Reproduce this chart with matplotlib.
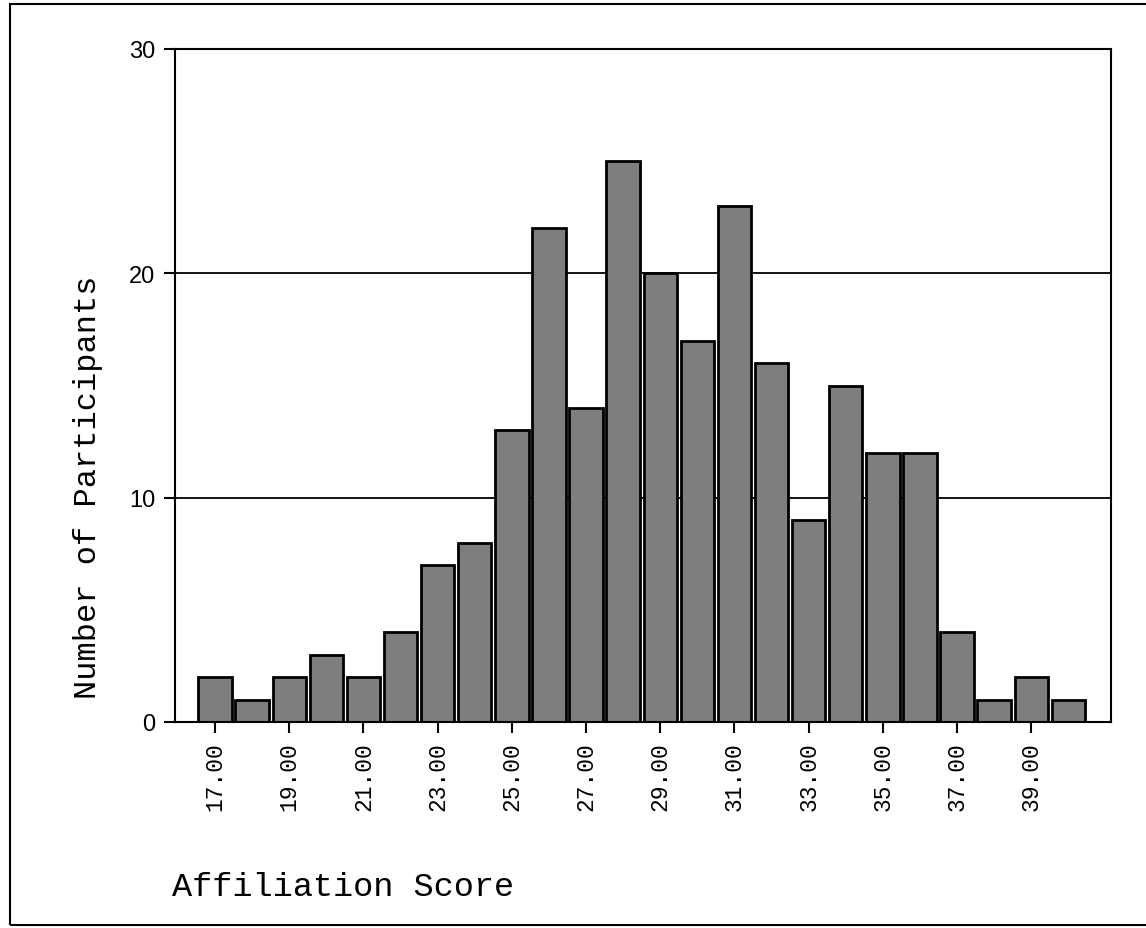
import matplotlib
matplotlib.use("Agg")
import matplotlib.pyplot as plt
from matplotlib.patches import Rectangle

scores = list(range(17, 41))
counts = [2, 1, 2, 3, 2, 4, 7, 8, 13, 22, 14, 25, 20, 17, 23, 16, 9, 15, 12, 12, 4, 1, 2, 1]
xtick_values = list(range(17, 40, 2))
xtick_labels = [f"{v:.2f}" for v in xtick_values]
ytick_values = [0, 10, 20, 30]

W, H = 1146, 929
fig = plt.figure(figsize=(W / 100, H / 100), dpi=100)
ax = fig.add_axes([175 / W, 1 - 723 / H, (1111 - 175) / W, (723 - 50) / H])

ax.set_xlim(15.92, 41.15)
ax.set_ylim(0, 30)
for y in [10, 20]:
    ax.axhline(y, color="black", lw=1.3, zorder=1)

ax.bar(scores, counts, width=0.9, color="#7e7e7e", edgecolor="black", linewidth=2.0, zorder=2)

ax.set_xticks(xtick_values)
ax.set_xticklabels(xtick_labels, rotation=90, family="Liberation Mono", fontsize=16.5)
ax.set_yticks(ytick_values)
ax.set_yticklabels([str(v) for v in ytick_values], family="Liberation Sans", fontsize=17)
ax.tick_params(axis="x", direction="out", length=8, width=1.5, pad=6)
ax.tick_params(axis="y", direction="out", length=8, width=1.5, pad=6)
for s in ax.spines.values():
    s.set_linewidth(1.5)

fig.text(88 / W, 1 - 487 / H, "Number of Participants", rotation=90, family="Liberation Mono",
         fontsize=23, ha="center", va="center")
fig.text(172 / W, 1 - 888 / H, "Affiliation Score", family="Liberation Mono",
         fontsize=24.2, ha="left", va="center")

# outer frame
fig.patches.append(Rectangle((10 / W, 1 - 926 / H), (W + 5 - 10) / W, (926 - 5) / H,
                             transform=fig.transFigure, fill=False, lw=1.5, ec="black"))

fig.savefig("out.png", dpi=100)
